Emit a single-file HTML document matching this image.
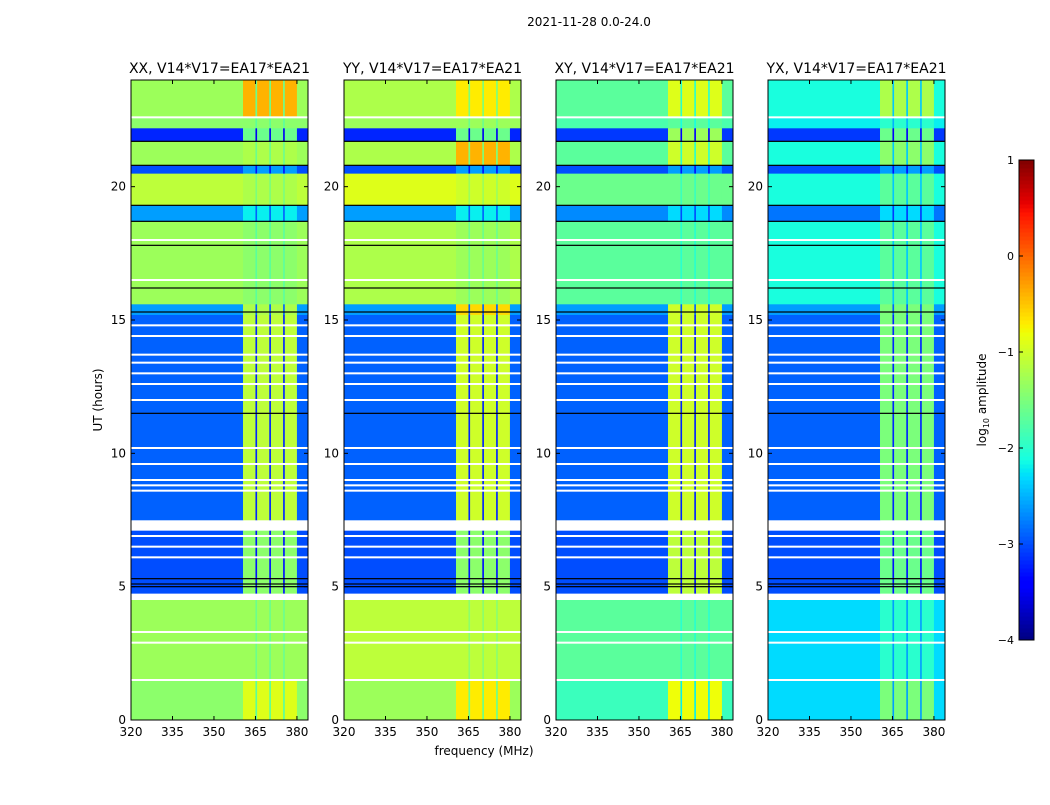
<!DOCTYPE html>
<html><head><meta charset="utf-8"><style>
body{margin:0;background:#fff;font-family:"Liberation Sans",sans-serif}
svg text{font-family:"DejaVu Sans","Liberation Sans",sans-serif}
</style></head><body>
<svg id="s" width="1050" height="800" xmlns="http://www.w3.org/2000/svg">
<text x="589" y="26" font-size="12" text-anchor="middle">2021-11-28 0.0-24.0</text>
<text x="484" y="755" font-size="12" text-anchor="middle">frequency (MHz)</text>
<text transform="translate(102,400) rotate(-90)" font-size="12" text-anchor="middle">UT (hours)</text>
<text transform="translate(986,400) rotate(-90)" font-size="12" text-anchor="middle">log<tspan font-size="8" dy="3">10</tspan><tspan dy="-3"> amplitude</tspan></text>
</svg>
<script>
const panelTitles=["XX, V14*V17=EA17*EA21","YY, V14*V17=EA17*EA21","XY, V14*V17=EA17*EA21","YX, V14*V17=EA17*EA21"];
const segStart=[0,1.5,4.5,4.75,7.1,7.5,15.2,15.6,18.7,19.3,20.5,20.8,21.7,22.2,22.6];
const segEnd=[1.5,4.5,4.75,7.1,7.5,15.2,15.6,18.7,19.3,20.5,20.8,21.7,22.2,22.6,24];
const bgXX=[-1.4,-1.3,null,-3.0,null,-2.9,-2.6,-1.3,-2.6,-1.1,-3.0,-1.3,-3.2,-1.4,-1.3];
const bgYY=[-1.3,-1.1,null,-3.0,null,-2.9,-2.6,-1.2,-2.6,-0.9,-3.0,-1.2,-3.2,-1.3,-1.2];
const bgXY=[-1.9,-1.7,null,-3.0,null,-2.9,-2.6,-1.7,-2.7,-1.6,-3.0,-1.7,-3.1,-1.8,-1.7];
const bgYX=[-2.3,-2.3,null,-3.0,null,-2.9,-2.6,-2.1,-2.8,-2.1,-3.0,-2.1,-3.1,-2.2,-2.1];
const rfiXX=[-0.9,-1.3,null,-1.4,null,-1.1,-1.2,-1.4,-2.2,-1.2,-2.6,-1.2,-1.6,-1.4,-0.4];
const rfiYY=[-0.7,-1.1,null,-1.4,null,-1.0,-0.6,-1.3,-2.2,-1.0,-2.6,-0.4,-1.6,-1.3,-0.7];
const rfiXY=[-0.8,-1.7,null,-1.1,null,-1.0,-1.0,-1.7,-2.3,-1.6,-2.6,-1.0,-1.3,-1.7,-0.9];
const rfiYX=[-1.5,-2.0,null,-1.6,null,-1.5,-1.5,-1.7,-2.3,-1.7,-2.6,-1.4,-1.6,-2.0,-1.2];
const chanStart=[320,360.5,365,365.6,370,370.6,375,375.6,380];
const chanEnd=[360.5,365,365.6,370,370.6,375,375.6,380,384];
const chanRFI=[0,1,2,1,2,1,2,1,0];
const whiteLines=[1.5,2.9,3.3,6.1,6.5,6.9,8.6,8.8,9.0,9.6,10.2,12.0,12.6,13.0,13.4,13.7,14.4,14.8,16.5,18.0,22.6];
const blackLines=[5.0,5.1,5.3,11.5,15.3,16.2,17.8,18.7,19.3,20.8,21.7];
const xTicks=[320,335,350,365,380];
const yTicks=[0,5,10,15,20];
const cbTicks=[1,0,-1,-2,-3,-4];
const bgs=[bgXX,bgYY,bgXY,bgYX], rfis=[rfiXX,rfiYY,rfiXY,rfiYX];
const NS="http://www.w3.org/2000/svg", svg=document.getElementById('s');
function mk(t,a,p){const e=document.createElementNS(NS,t);for(const k in a)e.setAttribute(k,a[k]);(p||svg).appendChild(e);return e;}
function interp(t,pts){for(let i=1;i<pts.length;i++){if(t<=pts[i][0]){const a=pts[i-1],b=pts[i];return a[1]+(b[1]-a[1])*(t-a[0])/(b[0]-a[0]);}}return pts[pts.length-1][1];}
const JR=[[0,0],[0.35,0],[0.66,1],[0.89,1],[1,0.5]];
const JG=[[0,0],[0.125,0],[0.375,1],[0.64,1],[0.91,0],[1,0]];
const JB=[[0,0.5],[0.11,1],[0.34,1],[0.65,0],[1,0]];
function jet(v){let t=(v+4)/5;t=Math.max(0,Math.min(1,t));
 const c=x=>Math.round(255*x);
 return `rgb(${c(interp(t,JR))},${c(interp(t,JG))},${c(interp(t,JB))})`;}
const lefts=[131,344,556,768], W=177, yTop=80, yBot=720;
for(let p=0;p<4;p++){
 const L=lefts[p];
 const xs=f=>L+(f-320)/64*W, ys=h=>yBot-(h/24)*(yBot-yTop);
 const g=mk('g',{});
 
 
 for(let i=0;i<segStart.length;i++){
  for(let j=0;j<chanStart.length;j++){
   let v=bgs[p][i]; if(v===null) continue;
   if(chanRFI[j]===1) v=rfis[p][i]; else if(chanRFI[j]===2) v=Math.min(rfis[p][i],bgs[p][i])-0.3;
   const r=mk('rect',{x:xs(chanStart[j]),y:ys(segEnd[i]),width:xs(chanEnd[j])-xs(chanStart[j])+0.3,height:ys(segStart[i])-ys(segEnd[i])+0.3,fill:jet(v)},g);
   
   
  }
 }
 whiteLines.forEach(h=>{const l=mk('rect',{x:L,y:ys(h)-1,width:W,height:2,fill:'#fff'},g);});
 blackLines.forEach(h=>{const l=mk('rect',{x:L,y:ys(h)-0.6,width:W,height:1.2,fill:'#000'},g);});
 mk('rect',{x:L,y:yTop,width:W,height:yBot-yTop,fill:'none',stroke:'#000','stroke-width':1},g);
 const tt=mk('text',{x:L+W/2,y:73,'font-size':14,'text-anchor':'middle'},g);tt.textContent=panelTitles[p];
 
 xTicks.forEach(f=>{const x=xs(f);mk('line',{x1:x,x2:x,y1:yBot,y2:yBot-4,stroke:'#000'},g);mk('line',{x1:x,x2:x,y1:yTop,y2:yTop+4,stroke:'#000'},g);
  const t=mk('text',{x:x,y:yBot+16,'font-size':12,'text-anchor':'middle'},g);t.textContent=f;});
 yTicks.forEach(h=>{const y=ys(h);mk('line',{x1:L,x2:L+4,y1:y,y2:y,stroke:'#000'},g);mk('line',{x1:L+W,x2:L+W-4,y1:y,y2:y,stroke:'#000'},g);
  const t=mk('text',{x:L-5,y:y+4,'font-size':12,'text-anchor':'end'},g);t.textContent=h;});
}
const cb=mk('g',{});


const cT=160,cB=640,cL=1019,cW=15;
for(let k=0;k<120;k++){const v=-4+5*(k+0.5)/120;mk('rect',{x:cL,y:cB-(k+1)*(cB-cT)/120,width:cW,height:(cB-cT)/120+0.5,fill:jet(v)},cb);}
mk('rect',{x:cL,y:cT,width:cW,height:cB-cT,fill:'none',stroke:'#000'},cb);
cbTicks.forEach(v=>{const y=cB-(v+4)/5*(cB-cT);mk('line',{x1:cL,x2:cL+4,y1:y,y2:y,stroke:'#000'},cb);
 const t=mk('text',{x:1014,y:y+4,'font-size':11,'text-anchor':'end'},cb);t.textContent=v<0?'\u2212'+(-v):v;});
</script>
</body></html>
